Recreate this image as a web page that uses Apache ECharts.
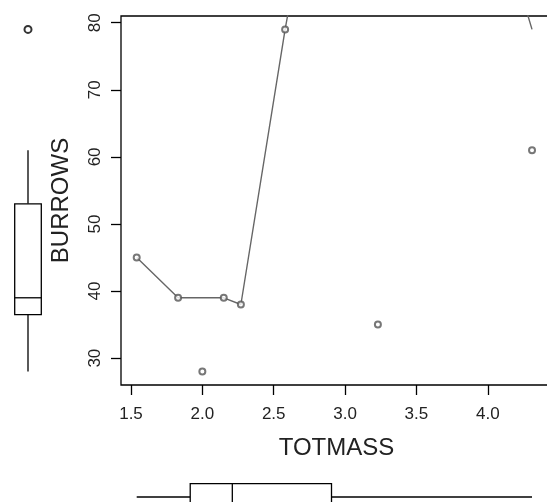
<!DOCTYPE html>
<html>
<head>
<meta charset="utf-8">
<script src="https://cdn.jsdelivr.net/npm/echarts@6/dist/echarts.min.js"></script>
<style>
  html, body { margin: 0; padding: 0; background: #fff; }
  #chart { width: 547px; height: 502px; }
</style>
</head>
<body>
<div id="chart"></div>
<script>
// scatter points
var totmass = [1.54, 1.83, 2.0, 2.15, 2.27, 2.58, 3.23, 4.31];
var burrows = [45, 39, 28, 39, 38, 79, 35, 61];

// smoother line (middle vertex runs far off the top of the plot)
var fitX = [1.54, 1.83, 2.15, 2.27, 2.58, 3.23, 4.31];
var fitY = [45, 39, 39, 38, 79, 156, 79];

// marginal boxplots: [min, Q1, median, Q3, max]
var burrowsBox = [28, 36.5, 39, 53, 61];
var burrowsOut = [79];
var totmassBox = [1.54, 1.915, 2.21, 2.905, 4.31];

var xTicks = [1.5, 2.0, 2.5, 3.0, 3.5, 4.0];
var yTicks = [30, 40, 50, 60, 70, 80];

var font = '"Liberation Sans", Arial, Helvetica, sans-serif';
var lineSt = {stroke: '#000', lineWidth: 1.3, fill: '#fff'};
var HALF = 13.3;

function boxV(params, api) {
  var c = api.value(0);
  var lo = api.coord([c, api.value(1)]);
  var q1 = api.coord([c, api.value(2)]);
  var md = api.coord([c, api.value(3)]);
  var q3 = api.coord([c, api.value(4)]);
  var hi = api.coord([c, api.value(5)]);
  var x = lo[0];
  return {type: 'group', children: [
    {type: 'line', shape: {x1: x, y1: hi[1], x2: x, y2: q3[1]}, style: lineSt},
    {type: 'line', shape: {x1: x, y1: q1[1], x2: x, y2: lo[1]}, style: lineSt},
    {type: 'rect', shape: {x: x - HALF, y: q3[1], width: 2 * HALF, height: q1[1] - q3[1]}, style: lineSt},
    {type: 'line', shape: {x1: x - HALF, y1: md[1], x2: x + HALF, y2: md[1]}, style: lineSt}
  ]};
}

function boxH(params, api) {
  var c = api.value(0);
  var lo = api.coord([api.value(1), c]);
  var q1 = api.coord([api.value(2), c]);
  var md = api.coord([api.value(3), c]);
  var q3 = api.coord([api.value(4), c]);
  var hi = api.coord([api.value(5), c]);
  var y = lo[1];
  return {type: 'group', children: [
    {type: 'line', shape: {x1: lo[0], y1: y, x2: q1[0], y2: y}, style: lineSt},
    {type: 'line', shape: {x1: q3[0], y1: y, x2: hi[0], y2: y}, style: lineSt},
    {type: 'rect', shape: {x: q1[0], y: y - HALF, width: q3[0] - q1[0], height: 2 * HALF}, style: lineSt},
    {type: 'line', shape: {x1: md[0], y1: y - HALF, x2: md[0], y2: y + HALF}, style: lineSt}
  ]};
}

var chart = echarts.init(document.getElementById('chart'), null, {renderer: 'canvas'});

chart.setOption({
  backgroundColor: '#fff',
  animation: false,
  textStyle: {fontFamily: font},
  grid: [
    {left: 121, top: 16, width: 431, height: 369, show: true, borderColor: '#000', borderWidth: 1.3,
      backgroundColor: 'transparent', outerBoundsMode: 'none', containLabel: false},
    {left: 2, top: 16, width: 52, height: 369, outerBoundsMode: 'none', containLabel: false},
    {left: 121, top: 484, width: 431, height: 26, outerBoundsMode: 'none', containLabel: false}
  ],
  xAxis: [
    {
      gridIndex: 0, type: 'value', min: 1.43, max: 4.45,
      name: 'TOTMASS', nameLocation: 'middle', nameGap: 51,
      nameTextStyle: {fontSize: 24, color: '#222', fontFamily: font},
      axisLine: {show: false},
      axisTick: {show: true, inside: false, length: 10, customValues: xTicks, lineStyle: {color: '#000', width: 1.3}},
      axisLabel: {customValues: xTicks, margin: 21, fontSize: 17, color: '#222', fontFamily: font,
        formatter: function (v) { return v.toFixed(1); }},
      splitLine: {show: false}
    },
    {gridIndex: 1, type: 'category', data: ['BURROWS'], show: false},
    {gridIndex: 2, type: 'value', min: 1.43, max: 4.45, show: false, splitLine: {show: false}}
  ],
  yAxis: [
    {
      gridIndex: 0, type: 'value', min: 26, max: 81,
      name: 'BURROWS', nameLocation: 'middle', nameGap: 48,
      nameTextStyle: {fontSize: 24, color: '#222', fontFamily: font},
      axisLine: {show: false},
      axisTick: {show: true, inside: false, length: 10, customValues: yTicks, lineStyle: {color: '#000', width: 1.3}},
      axisLabel: {customValues: yTicks, rotate: 90, margin: 17, fontSize: 17, color: '#222', fontFamily: font},
      splitLine: {show: false}
    },
    {gridIndex: 1, type: 'value', min: 26, max: 81, show: false, splitLine: {show: false}},
    {gridIndex: 2, type: 'category', data: ['TOTMASS'], show: false}
  ],
  series: [
    {
      type: 'line', xAxisIndex: 0, yAxisIndex: 0,
      data: fitX.map(function (x, i) { return [x, fitY[i]]; }),
      showSymbol: false, symbol: 'none',
      lineStyle: {color: '#666', width: 1.4},
      clip: true, z: 2
    },
    {
      type: 'scatter', xAxisIndex: 0, yAxisIndex: 0,
      data: totmass.map(function (x, i) { return [x, burrows[i]]; }),
      symbol: 'emptyCircle', symbolSize: 6,
      itemStyle: {color: '#555', borderWidth: 1.2},
      z: 3
    },
    {
      type: 'custom', xAxisIndex: 1, yAxisIndex: 1,
      renderItem: boxV,
      encode: {x: 0, y: [1, 2, 3, 4, 5]},
      data: [[0].concat(burrowsBox)]
    },
    {
      type: 'scatter', xAxisIndex: 1, yAxisIndex: 1,
      data: burrowsOut.map(function (v) { return [0, v]; }),
      symbol: 'emptyCircle', symbolSize: 7,
      itemStyle: {color: '#000', borderWidth: 1.4}
    },
    {
      type: 'custom', xAxisIndex: 2, yAxisIndex: 2,
      renderItem: boxH,
      encode: {x: [1, 2, 3, 4, 5], y: 0},
      data: [[0].concat(totmassBox)]
    }
  ]
});
</script>
</body>
</html>
